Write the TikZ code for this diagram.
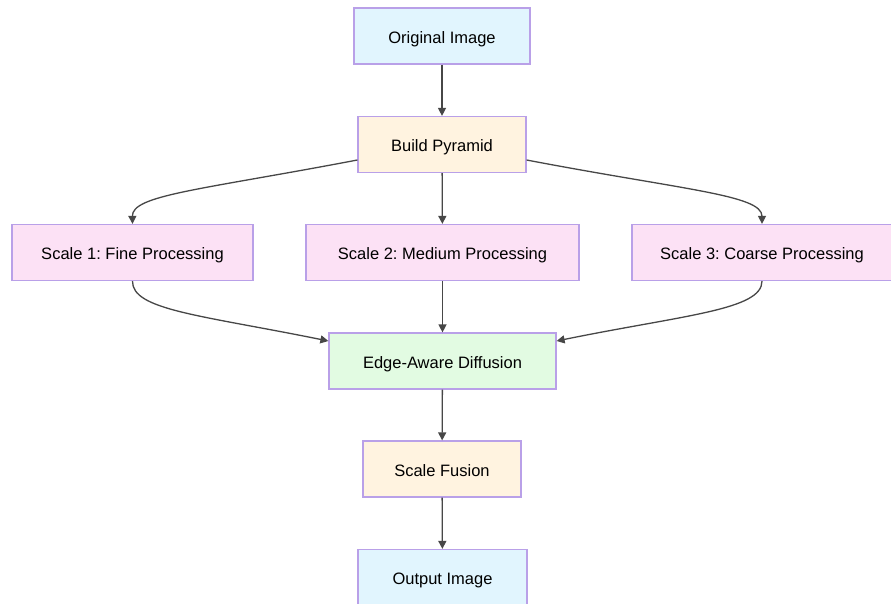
\documentclass[tikz,border=0pt]{standalone}
\usepackage{fontspec}
\setmainfont{Liberation Sans}
\usepackage{xcolor}
\usepackage{tikz}
\usetikzlibrary{arrows.meta}
\definecolor{boxline}{HTML}{B9A0E8}
\definecolor{inblue}{HTML}{E1F5FE}
\definecolor{midbeige}{HTML}{FFF3E0}
\definecolor{scalepink}{HTML}{FCE1F5}
\definecolor{diffgreen}{HTML}{E2FBE2}
\definecolor{wire}{HTML}{474747}
\frenchspacing

\begin{document}
\begin{tikzpicture}[x=1pt,y=-1pt,
    box/.style={draw=boxline,line width=1.2pt,minimum height=56pt,inner sep=0pt,
        text height=17pt,text depth=2.5pt,font=\fontsize{16.5}{19}\selectfont},
    flow/.style={draw=wire,line width=1.3pt,-{Triangle[length=8pt,width=8pt]}}]
        \useasboundingbox (0,0) rectangle (891,604);
        \node (orig) at (442,36)[box,fill=inblue,minimum width=176pt]{Original Image};
        \node (pyramid) at (442,144.5)[box,fill=midbeige,minimum width=168pt]{Build Pyramid};
        \node (fine) at (132.5,252.5)[box,fill=scalepink,minimum width=241pt]{Scale 1: Fine Processing};
        \node (medium) at (442.5,252.5)[box,fill=scalepink,minimum width=273pt]{Scale 2: Medium Processing};
        \node (coarse) at (762,252.5)[box,fill=scalepink,minimum width=260pt]{Scale 3: Coarse Processing};
        \node (diffusion) at (442.5,361)[box,fill=diffgreen,minimum width=227pt]{Edge-Aware Diffusion};
        \node (fusion) at (442,469)[box,fill=midbeige,minimum width=158pt]{Scale Fusion};
        \node (output) at (442.5,577.5)[box,fill=inblue,minimum width=169pt]{Output Image};
        \draw[flow] (orig) -- (pyramid);
        \draw[flow] (pyramid.west |- 0,160) .. controls (200,190) and (132,195) .. (fine.north);
        \draw[flow] (pyramid) -- (medium);
        \draw[flow] (pyramid.east |- 0,160) .. controls (684,190) and (762,195) .. (coarse.north);
        \draw[flow] (fine.south) .. controls (132,310) and (200,315) .. (diffusion.west |- 0,341);
        \draw[flow] (medium) -- (diffusion);
        \draw[flow] (coarse.south) .. controls (762,310) and (684,315) .. (diffusion.east |- 0,341);
        \draw[flow] (diffusion) -- (fusion);
        \draw[flow] (fusion) -- (output);
    \end{tikzpicture}
\end{document}
